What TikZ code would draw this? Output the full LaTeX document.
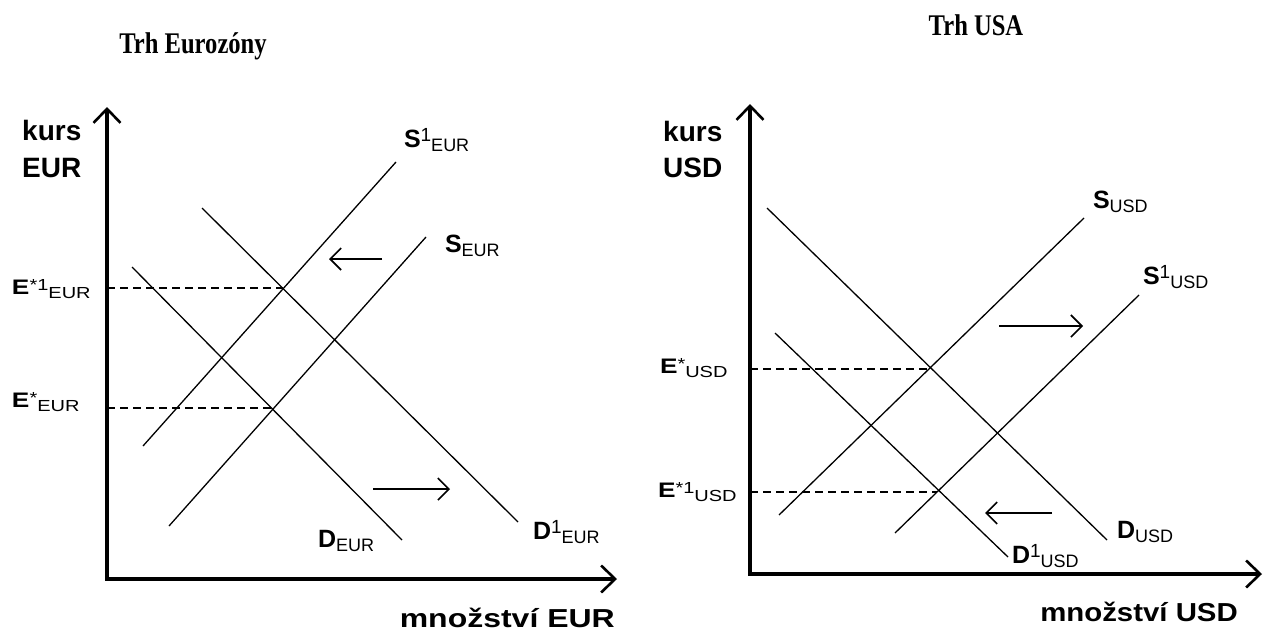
\documentclass[tikz,border=0pt]{standalone}
\usepackage{graphicx}
\usepackage{fontspec}
\setmainfont{Liberation Sans}
\newfontfamily\titlefont{Liberation Serif}[FakeStretch=0.82]
\newfontfamily\ratefont{Liberation Sans}[FakeStretch=1.25]
\usetikzlibrary{arrows.meta}

% curve label: bold letter, raised superscript, lowered subscript
\newcommand{\curvelab}[3]{{\fontsize{25}{25}\selectfont\bfseries #1}\raisebox{6pt}{\fontsize{19}{19}\selectfont #2}\raisebox{-4pt}{\fontsize{18}{18}\selectfont #3}}
% equilibrium rate label on the price axis
\newcommand{\ratelab}[3]{{\ratefont{\fontsize{21}{21}\selectfont\bfseries #1}\raisebox{4pt}{\fontsize{16}{16}\selectfont #2}\raisebox{-4pt}{\fontsize{16}{16}\selectfont #3}}}

\tikzset{
  axisline/.style={line width=3.6pt, -{Straight Barb[length=14pt,width=27pt,line width=2.6pt]}},
  curveline/.style={line width=1.3pt},
  guideline/.style={line width=1.5pt, dash pattern=on 8pt off 5pt},
  shiftarrow/.style={line width=1.6pt, -{Straight Barb[length=11pt,width=22pt,line width=1.6pt]}},
  lab/.style={anchor=base west, inner sep=0pt, outer sep=0pt},
  axlab/.style={anchor=base west, inner sep=0pt, font=\bfseries\fontsize{28}{28}\selectfont},
  qlab/.style={anchor=base east, inner sep=0pt, font=\bfseries\fontsize{26}{26}\selectfont},
  titlelab/.style={inner sep=0pt, font={\titlefont\bfseries\fontsize{30}{36}\selectfont}}
}

\begin{document}
\begin{tikzpicture}[x=1pt,y=-1pt]
\useasboundingbox (0,0) rectangle (1271,632);
\fill[white] (0,0) rectangle (1271,632);

% ---------------- euro area market ----------------
\node[titlelab] (tEUR) at (193,46) {Trh Eurozóny};

\coordinate (oE) at (107,579);
\coordinate (yE) at (107,107);
\coordinate (xE) at (617,579);
\draw[axisline] (oE) -- (yE);
\draw[axisline] ([xshift=-1.8pt]oE) -- (xE);

\node[axlab] (kursE) at (22,140) {kurs};
\node[axlab] (curE) at (22,177) {EUR};
\node[qlab] (qE) at (615,627) {\scalebox{1.23}[1]{množství EUR}};

% supply and demand curves
\coordinate (s1Ea) at (143,446); \coordinate (s1Eb) at (396,162);
\coordinate (sEa)  at (169,526); \coordinate (sEb)  at (426,237);
\coordinate (dEa)  at (132,267); \coordinate (dEb)  at (402,540);
\coordinate (d1Ea) at (202,208); \coordinate (d1Eb) at (518,522);
\draw[curveline] (s1Ea) -- (s1Eb);
\draw[curveline] (sEa) -- (sEb);
\draw[curveline] (dEa) -- (dEb);
\draw[curveline] (d1Ea) -- (d1Eb);

% equilibrium rates
\coordinate (e1Eax) at (107,288); \coordinate (e1Ept) at (283,288);
\coordinate (e0Eax) at (107,408); \coordinate (e0Ept) at (273,408);
\draw[guideline] (e1Eax) -- (e1Ept);
\draw[guideline] (e0Eax) -- (e0Ept);
\node[lab] (le1E) at (12,294) {\ratelab{E}{*1}{EUR}};
\node[lab] (le0E) at (12,407) {\ratelab{E}{*}{EUR}};

\node[lab] (ls1E) at (404,147) {\curvelab{S}{1}{EUR}};
\node[lab] (lsE)  at (445,252) {\curvelab{S}{}{EUR}};
\node[lab] (ldE)  at (318,547) {\curvelab{D}{}{EUR}};
\node[lab] (ld1E) at (533,539) {\curvelab{D}{1}{EUR}};

% curve shifts
\coordinate (aSEfrom) at (382,259); \coordinate (aSEto) at (329,259);
\coordinate (aDEfrom) at (373,489); \coordinate (aDEto) at (450,489);
\draw[shiftarrow] (aSEfrom) -- (aSEto);
\draw[shiftarrow] (aDEfrom) -- (aDEto);

% ---------------- US market ----------------
\node[titlelab] (tUSD) at (976,25) {Trh USA};

\coordinate (oU) at (750,574);
\coordinate (yU) at (750,104);
\coordinate (xU) at (1262,574);
\draw[axisline] (oU) -- (yU);
\draw[axisline] ([xshift=-1.8pt]oU) -- (xU);

\node[axlab] (kursU) at (663,141) {kurs};
\node[axlab] (curU) at (663,177) {USD};
\node[qlab] (qU) at (1238,621) {\scalebox{1.13}[1]{množství USD}};

\coordinate (sUa)  at (779,515);  \coordinate (sUb)  at (1084,218);
\coordinate (s1Ua) at (895,533);  \coordinate (s1Ub) at (1139,295);
\coordinate (dUa)  at (767,208);  \coordinate (dUb)  at (1107,540);
\coordinate (d1Ua) at (775,333);  \coordinate (d1Ub) at (1008,557);
\draw[curveline] (sUa) -- (sUb);
\draw[curveline] (s1Ua) -- (s1Ub);
\draw[curveline] (dUa) -- (dUb);
\draw[curveline] (d1Ua) -- (d1Ub);

\coordinate (e0Uax) at (750,369); \coordinate (e0Upt) at (929,369);
\coordinate (e1Uax) at (750,492); \coordinate (e1Upt) at (937,492);
\draw[guideline] (e0Uax) -- (e0Upt);
\draw[guideline] (e1Uax) -- (e1Upt);
\node[lab] (le0U) at (660,373) {\ratelab{E}{*}{USD}};
\node[lab] (le1U) at (658,497) {\ratelab{E}{*1}{USD}};

\node[lab] (lsU)  at (1093,208) {\curvelab{S}{}{USD}};
\node[lab] (ls1U) at (1143,284) {\curvelab{S}{1}{USD}};
\node[lab] (ldU)  at (1117,538) {\curvelab{D}{}{USD}};
\node[lab] (ld1U) at (1012,563) {\curvelab{D}{1}{USD}};

\coordinate (aSUfrom) at (999,326);  \coordinate (aSUto) at (1083,326);
\coordinate (aDUfrom) at (1052,513); \coordinate (aDUto) at (985,513);
\draw[shiftarrow] (aSUfrom) -- (aSUto);
\draw[shiftarrow] (aDUfrom) -- (aDUto);
\end{tikzpicture}
\end{document}
